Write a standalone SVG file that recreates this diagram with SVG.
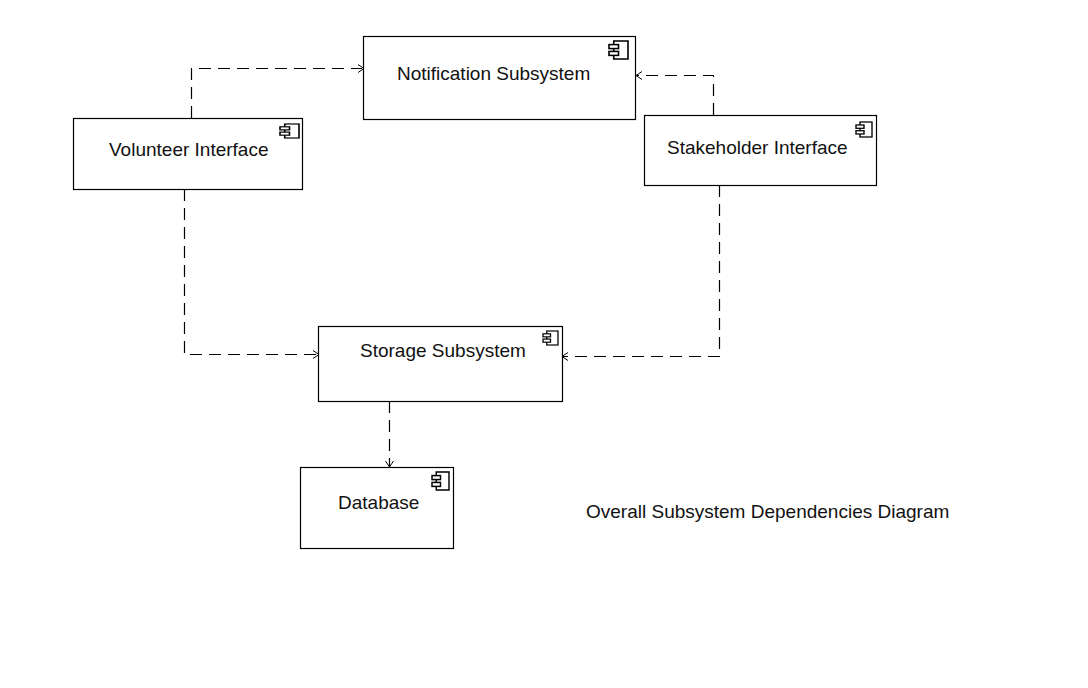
<svg xmlns="http://www.w3.org/2000/svg" width="1088" height="688" viewBox="0 0 1088 688">
<style>
.box{fill:#fff;stroke:#000;stroke-width:1.2}
.lbl{font-family:"Liberation Sans",Arial,sans-serif;font-size:19px;fill:#111}
.dep{fill:none;stroke:#000;stroke-width:1.2;stroke-dasharray:12 7}
.tip{fill:none;stroke:#000;stroke-width:1}
.ic{fill:#fff;stroke:#000;stroke-width:.085}
</style>
<defs>
<g id="icon">
<rect class="ic" x=".25" y="0" width=".75" height="1"/>
<rect class="ic" x="0" y=".2" width=".5" height=".22"/>
<rect class="ic" x="0" y=".58" width=".5" height=".22"/>
</g>
</defs>
<rect width="1088" height="688" fill="#fff"/>
<g id="connectors">
<path class="dep" d="M191.500 118V68.500H362"/>
<path class="tip" d="M358 64.500l6 4-6 4"/>
<path class="dep" d="M713.500 115V75.500H637"/>
<path class="tip" d="M642 71.500l-6 4 6 4"/>
<path class="dep" d="M184.500 189V354.500H317"/>
<path class="tip" d="M313 350.500l6 4-6 4"/>
<path class="dep" d="M719.500 185V356.500H563"/>
<path class="tip" d="M568 352.500l-6 4 6 4"/>
<path class="dep" d="M389.500 401V466"/>
<path class="tip" d="M385.500 461l4 6 4-6"/>
</g>
<g id="notification">
<rect class="box" x="363.500" y="36.500" width="272" height="83"/>
<use href="#icon" transform="translate(609 41) scale(19 18)"/>
<text class="lbl" x="397" y="80">Notification Subsystem</text>
</g>
<g id="volunteer">
<rect class="box" x="73.500" y="118.500" width="229" height="71"/>
<use href="#icon" transform="translate(280 124) scale(19 14)"/>
<text class="lbl" x="109" y="156">Volunteer Interface</text>
</g>
<g id="stakeholder">
<rect class="box" x="644.500" y="115.500" width="232" height="70"/>
<use href="#icon" transform="translate(856 122) scale(16 15)"/>
<text class="lbl" x="667" y="154">Stakeholder Interface</text>
</g>
<g id="storage">
<rect class="box" x="318.500" y="326.500" width="244" height="75"/>
<use href="#icon" transform="translate(543 331) scale(15 14)"/>
<text class="lbl" x="360" y="357">Storage Subsystem</text>
</g>
<g id="database">
<rect class="box" x="300.500" y="467.500" width="153" height="81"/>
<use href="#icon" transform="translate(432 472) scale(17 18)"/>
<text class="lbl" x="338" y="509">Database</text>
</g>
<text id="caption" class="lbl" x="586" y="518">Overall Subsystem Dependencies Diagram</text>
</svg>
